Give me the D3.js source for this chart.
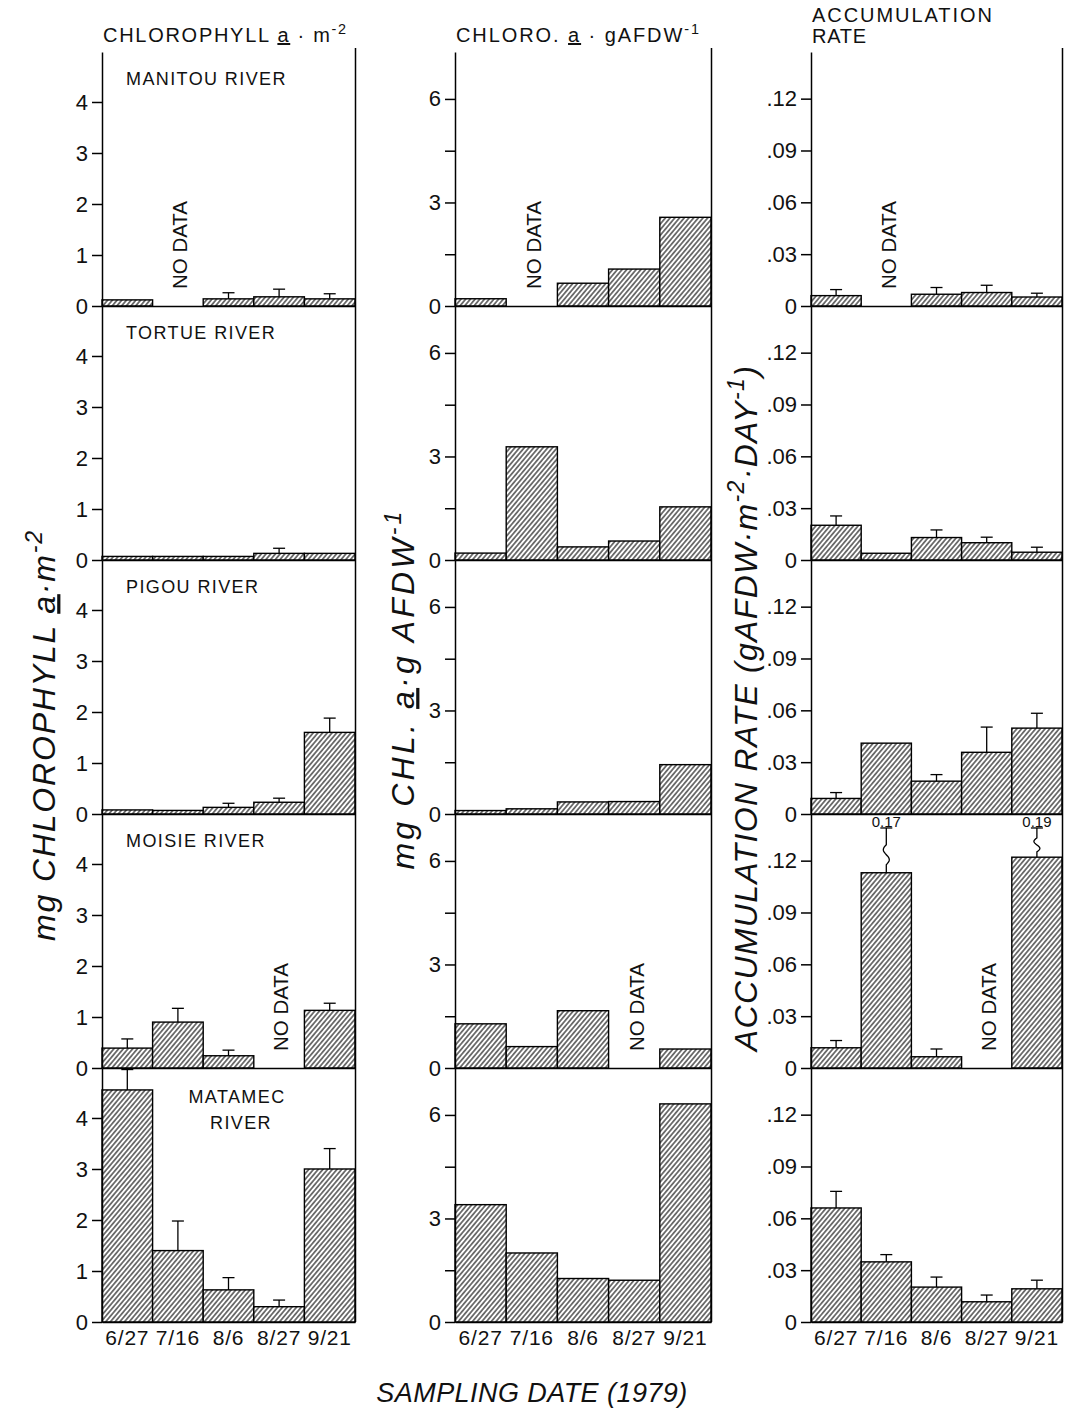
<!DOCTYPE html>
<html>
<head>
<meta charset="utf-8">
<script src="https://cdn.jsdelivr.net/npm/d3@7"></script>
<style>
  body { margin: 0; background: #fff; }
  svg { display: block; }
  text { font-family: "Liberation Sans", Arial, sans-serif; fill: #111; }
</style>
</head>
<body>
<svg id="chart" width="1067" height="1409"></svg>
<script>
// Sampling dates (1979) and rivers, top to bottom
const dates = ["6/27", "7/16", "8/6", "8/27", "9/21"];
const rivers = ["MANITOU RIVER", "TORTUE RIVER", "PIGOU RIVER", "MOISIE RIVER", "MATAMEC RIVER"];

// mg chlorophyll a per m² (null = no sample) and top of the error bar
const chlArea = [
  [0.12, null, 0.14, 0.18, 0.14],
  [0.07, 0.07, 0.07, 0.13, 0.13],
  [0.08, 0.07, 0.13, 0.23, 1.6],
  [0.39, 0.9, 0.24, null, 1.13],
  [4.55, 1.4, 0.63, 0.3, 3.0]
];
const chlAreaErr = [
  [null, null, 0.26, 0.33, 0.24],
  [null, null, null, 0.23, null],
  [null, null, 0.21, 0.31, 1.88],
  [0.57, 1.17, 0.35, null, 1.27],
  [4.95, 1.98, 0.87, 0.43, 3.4]
];

// mg chlorophyll a per g ash-free dry weight
const chlMass = [
  [0.21, null, 0.66, 1.07, 2.57],
  [0.2, 3.28, 0.38, 0.55, 1.54],
  [0.1, 0.15, 0.35, 0.36, 1.43],
  [1.28, 0.62, 1.66, null, 0.55],
  [3.4, 2.0, 1.26, 1.21, 6.32]
];

// accumulation rate, g AFDW per m² per day, and top of the error bar
const accRate = [
  [0.006, null, 0.0068, 0.0078, 0.0052],
  [0.0201, 0.0039, 0.013, 0.01, 0.0045],
  [0.009, 0.041, 0.019, 0.0357, 0.0497],
  [0.0117, 0.113, 0.0065, null, 0.122],
  [0.066, 0.0348, 0.0202, 0.0117, 0.0192]
];
const accRateErr = [
  [0.0095, null, 0.0107, 0.012, 0.0074],
  [0.0255, null, 0.0174, 0.0132, 0.0074],
  [0.0124, null, 0.0228, 0.0503, 0.0583],
  [0.0159, 0.17, 0.011, null, 0.19],
  [0.0756, 0.039, 0.026, 0.0156, 0.0242]
];

const chlAreaTicks = [0, 1, 2, 3, 4];
const chlAreaTickLabels = ["0", "1", "2", "3", "4"];
const chlMassTicks = [0, 1.5, 3, 4.5, 6];
const chlMassTickLabels = ["0", "", "3", "", "6"];
const accRateTicks = [0, 0.03, 0.06, 0.09, 0.12];
const accRateTickLabels = ["0", ".03", ".06", ".09", ".12"];

const svg = d3.select("#chart");
const FONT = '"Liberation Sans", Arial, sans-serif';

// diagonal hatching used for every bar
const defs = svg.append("defs");
const pat = defs.append("pattern")
  .attr("id", "hatch")
  .attr("patternUnits", "userSpaceOnUse")
  .attr("width", 3.6).attr("height", 8)
  .attr("patternTransform", "rotate(40)");
pat.append("rect").attr("width", 3.6).attr("height", 8).attr("fill", "#fff");
pat.append("line").attr("x1", 1.8).attr("x2", 1.8).attr("y1", -1).attr("y2", 9)
  .attr("stroke", "#000").attr("stroke-width", 1.05);

const top0 = 52, rowH = 254, nRows = rivers.length;

const columns = [
  { values: chlArea, errors: chlAreaErr, max: 4.98, ticks: chlAreaTicks, tickLabels: chlAreaTickLabels, x0: 102, x1: 355 },
  { values: chlMass, errors: null, max: 7.36, ticks: chlMassTicks, tickLabels: chlMassTickLabels, x0: 455, x1: 711 },
  { values: accRate, errors: accRateErr, max: 0.147, ticks: accRateTicks, tickLabels: accRateTickLabels, x0: 811, x1: 1062 }
];

// set letter-spacing so a text element spans the given width
function fitWidth(sel, target) {
  sel.attr("letter-spacing", 0);
  const node = sel.node();
  const w = node.getComputedTextLength();
  const n = node.textContent.length;
  if (n > 1) sel.attr("letter-spacing", ((target - w) / (n - 1)).toFixed(2));
  return sel;
}

// text built from runs; sup runs are raised and smaller, ul runs underlined
function richText(parent, parts, size) {
  const t = parent.append("text").attr("font-size", size);
  let raised = false;
  parts.forEach(p => {
    const ts = t.append("tspan").text(p.t);
    if (p.sup) {
      ts.attr("font-size", size * 0.72);
      if (!raised) ts.attr("dy", -size * 0.4);
      raised = true;
    } else {
      if (raised) ts.attr("dy", size * 0.4);
      raised = false;
    }
    if (p.ul) ts.style("text-decoration", "underline");
  });
  return t;
}

columns.forEach((col, c) => {
  const x = d3.scaleBand().domain(dates).range([col.x0, col.x1]).padding(0);

  for (let r = 0; r < nRows; r++) {
    const top = top0 + r * rowH, bottom = top + rowH;
    const y = d3.scaleLinear().domain([0, col.max]).range([bottom, top]);
    const g = svg.append("g").attr("class", `panel c${c} r${r}`);

    const data = dates.map((d, i) => ({
      date: d,
      v: col.values[r][i],
      e: col.errors ? col.errors[r][i] : null
    }));

    // bars
    g.selectAll("rect.bar")
      .data(data.filter(d => d.v != null))
      .join("rect")
      .attr("class", "bar")
      .attr("x", d => x(d.date))
      .attr("y", d => y(d.v))
      .attr("width", x.bandwidth())
      .attr("height", d => y(0) - y(d.v))
      .attr("fill", "url(#hatch)")
      .attr("stroke", "#000")
      .attr("stroke-width", 1.4);

    // error bars
    data.filter(d => d.v != null && d.e != null).forEach(d => {
      const cx = x(d.date) + x.bandwidth() / 2;
      const y0 = y(d.v);
      const eb = g.append("g").attr("stroke", "#000").attr("stroke-width", 1.3).attr("fill", "none");
      if (d.e <= col.max) {
        const ye = y(d.e);
        eb.append("line").attr("x1", cx).attr("x2", cx).attr("y1", y0).attr("y2", ye);
        eb.append("line").attr("x1", cx - 6).attr("x2", cx + 6).attr("y1", ye).attr("y2", ye);
      } else {
        // off-scale error bar: broken with a squiggle, value written above
        const capY = y(col.max * 0.945);
        const gap = y0 - capY;
        const sqStart = y0 - gap * 0.18;
        const sqLen = Math.min(20, gap * 0.48);
        const pts = [[cx, y0], [cx, sqStart]];
        for (let k = 1; k <= 16; k++) {
          const f = k / 16;
          pts.push([cx + 3 * Math.sin(f * Math.PI * 2), sqStart - f * sqLen]);
        }
        pts.push([cx, capY]);
        eb.append("path").attr("d", d3.line()(pts));
        eb.append("line").attr("x1", cx - 6).attr("x2", cx + 6).attr("y1", capY).attr("y2", capY);
        g.append("text")
          .attr("x", cx).attr("y", capY - 1)
          .attr("text-anchor", "middle")
          .attr("font-size", 15)
          .text(d3.format(".2f")(d.e));
      }
    });

    // no-data notes
    data.filter(d => d.v == null).forEach(d => {
      const cx = x(d.date) + x.bandwidth() / 2;
      g.append("text")
        .attr("transform", `translate(${cx + 2},${y(0) - 17}) rotate(-90)`)
        .attr("dy", "0.35em")
        .attr("font-size", 21)
        .attr("textLength", 88)
        .attr("lengthAdjust", "spacingAndGlyphs")
        .text("NO DATA");
    });

    // left axis
    const ax = g.append("g")
      .attr("transform", `translate(${col.x0},0)`)
      .call(d3.axisLeft(y)
        .tickValues(col.ticks)
        .tickFormat((d, i) => col.tickLabels[i])
        .tickSize(10).tickPadding(4).tickSizeOuter(0));
    ax.attr("font-size", 22).attr("font-family", FONT);
    ax.selectAll("path, line").attr("stroke", "#000").attr("stroke-width", 1.5);
    ax.selectAll("text").attr("fill", "#111");

    // zero line, with the sampling dates under the bottom row
    const xAxis = d3.axisBottom(x).tickSize(0).tickSizeOuter(0).tickPadding(8);
    if (r < nRows - 1) xAxis.tickValues([]);
    const bx = g.append("g").attr("transform", `translate(0,${bottom})`).call(xAxis);
    bx.attr("font-size", 21).attr("font-family", FONT);
    bx.selectAll("path").attr("stroke", "#000").attr("stroke-width", 1.5);
    bx.selectAll("text").attr("fill", "#111").attr("letter-spacing", 0.8);
  }

  // right frame line
  svg.append("line")
    .attr("x1", col.x1 + 0.5).attr("x2", col.x1 + 0.5)
    .attr("y1", top0 - 4).attr("y2", top0 + nRows * rowH)
    .attr("stroke", "#000").attr("stroke-width", 1.5);
});

// river names (first column)
rivers.forEach((name, r) => {
  const top = top0 + r * rowH;
  const lab = svg.append("g").attr("font-size", 18).attr("letter-spacing", 1.4);
  if (r === nRows - 1) {
    const words = name.split(" ");
    lab.append("text").attr("x", 237).attr("y", top + 35).attr("text-anchor", "middle").text(words[0]);
    lab.append("text").attr("x", 241).attr("y", top + 61).attr("text-anchor", "middle").text(words[1]);
  } else {
    lab.append("text").attr("x", 126).attr("y", top + 33).text(name);
  }
});

// column headings
const h1 = richText(svg, [{ t: "CHLOROPHYLL " }, { t: "a", ul: true }, { t: " · m" }, { t: "-2", sup: true }], 20)
  .attr("x", 103).attr("y", 42);
fitWidth(h1, 243);
const h2 = richText(svg, [{ t: "CHLORO. " }, { t: "a", ul: true }, { t: " · gAFDW" }, { t: "-1", sup: true }], 20)
  .attr("x", 456).attr("y", 42);
fitWidth(h2, 243);
fitWidth(svg.append("text").attr("x", 812).attr("y", 22).attr("font-size", 20).text("ACCUMULATION"), 180);
fitWidth(svg.append("text").attr("x", 812).attr("y", 43).attr("font-size", 20).text("RATE"), 54);

// y-axis titles
function yTitle(parts, cx, cy, len) {
  const t = richText(svg, parts, 32)
    .attr("font-style", "italic")
    .attr("text-anchor", "middle")
    .attr("transform", `translate(${cx},${cy}) rotate(-90)`);
  t.select("tspan").attr("dy", "0.35em");
  fitWidth(t, len);
  return t;
}
yTitle([{ t: "mg CHLOROPHYLL " }, { t: "a", ul: true }, { t: "·m" }, { t: "-2", sup: true }], 44, 735, 410);
yTitle([{ t: "mg CHL. " }, { t: "a", ul: true }, { t: "·g AFDW" }, { t: "-1", sup: true }], 403, 689, 358);
yTitle([{ t: "ACCUMULATION RATE (gAFDW·m" }, { t: "-2", sup: true }, { t: "·DAY" }, { t: "-1", sup: true }, { t: ")" }], 746, 708, 685);

// x-axis title
const xt = svg.append("text")
  .attr("x", 532).attr("y", 1402)
  .attr("text-anchor", "middle")
  .attr("font-size", 27)
  .attr("font-style", "italic")
  .text("SAMPLING DATE (1979)");
fitWidth(xt, 311);
</script>
</body>
</html>
